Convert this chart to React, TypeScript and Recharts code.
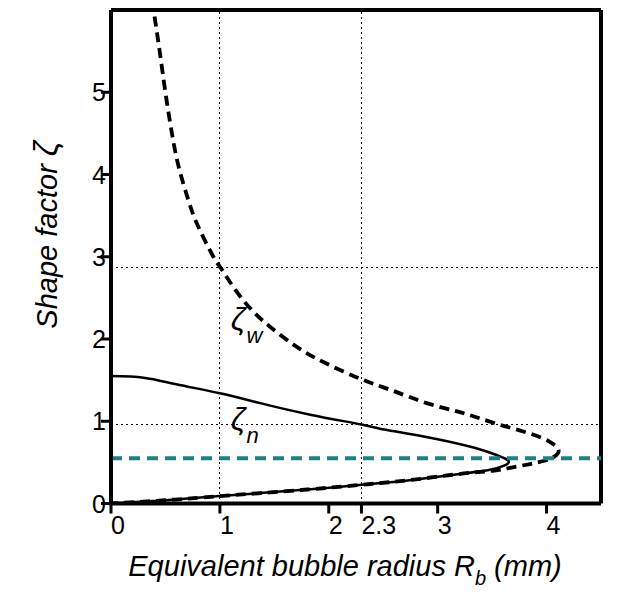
import React from 'react';
import { LineChart, Line, XAxis, YAxis, ReferenceLine, ReferenceDot } from 'recharts';

const FONT = '"Liberation Sans", Arial, sans-serif';

// axis ticks
const xTicks = [0, 1, 2, 2.3, 3, 4];
const yTicks = [0, 1, 2, 3, 4, 5];

// zeta_w (dashed): down from the top, round the tip, back along the lower branch
const zetaWRadius = [0.40, 0.45, 0.505, 0.57, 0.63, 0.71, 0.80, 0.94, 1.0, 1.12, 1.28, 1.46, 1.70, 1.95, 2.30, 2.59, 2.90, 3.23, 3.54, 3.85, 4.03, 4.11, 4.07, 3.98, 3.85, 3.69, 3.52, 3.24, 2.78, 2.38, 1.8, 1.0, 0.5, 0];
const zetaWShape = [5.92, 5.47, 4.95, 4.42, 4.05, 3.69, 3.37, 3.00, 2.88, 2.64, 2.37, 2.15, 1.91, 1.72, 1.51, 1.37, 1.22, 1.10, 0.97, 0.85, 0.75, 0.65, 0.57, 0.52, 0.48, 0.44, 0.40, 0.365, 0.29, 0.237, 0.17, 0.09, 0.04, 0];

// zeta_n (solid)
const zetaNRadius = [0, 0.30, 0.60, 1.0, 1.37, 1.83, 2.30, 2.47, 2.93, 3.33, 3.54, 3.65, 3.61, 3.48, 3.24, 2.78, 2.38, 1.8, 1.0, 0.5, 0];
const zetaNShape = [1.55, 1.53, 1.45, 1.34, 1.22, 1.08, 0.96, 0.91, 0.80, 0.68, 0.59, 0.52, 0.46, 0.41, 0.365, 0.29, 0.237, 0.17, 0.09, 0.04, 0];

// dotted guides and the critical value
const guideRadius = [1, 2.3];
const guideShape = [0.96, 2.87];
const criticalShape = 0.55;

const zetaW = zetaWRadius.map((x, i) => ({ x, y: zetaWShape[i] }));
const zetaN = zetaNRadius.map((x, i) => ({ x, y: zetaNShape[i] }));

const XTick = (props: any) => {
  const { x, y, payload } = props;
  return (
    <text x={x} y={y} dy={18} textAnchor="start" fontSize={25} fontFamily={FONT} fill="#000">
      {payload.value}
    </text>
  );
};

const YTick = (props: any) => {
  const { x, y, payload } = props;
  return (
    <text x={x + 7} y={y} dy={9} textAnchor="end" fontSize={25} fontFamily={FONT} fill="#000">
      {payload.value}
    </text>
  );
};

const XTitle = (props: any) => {
  const vb = props.viewBox;
  const cx = vb.x + vb.width / 2 - 11;
  const y = vb.y + 72.5;
  return (
    <text x={cx} y={y} textAnchor="middle" fontSize={29} fontStyle="italic" fontFamily={FONT} fill="#000">
      Equivalent bubble radius R
      <tspan dy={9} fontSize={20}>b</tspan>
      <tspan dy={-9}> (mm)</tspan>
    </text>
  );
};

const YTitle = (props: any) => {
  const vb = props.viewBox;
  const x = vb.x + 6;
  const cy = vb.y + vb.height / 2 - 22;
  return (
    <text x={x} y={cy} transform={`rotate(-90, ${x}, ${cy})`} textAnchor="middle" fontSize={29} fontStyle="italic" fontFamily={FONT} fill="#000">
      Shape factor <tspan fontSize={33}>ζ</tspan>
    </text>
  );
};

// zeta with its subscript, as one text
const zetaLabel = (sub: string) => (props: any) => {
  const { cx, cy } = props;
  return (
    <text x={cx} y={cy} fontFamily={FONT} fill="#000" fontSize={32} fontStyle="italic">
      ζ<tspan dx={1} dy={13} fontSize={22}>{sub}</tspan>
    </text>
  );
};

const App: React.FC = () => {
  return (
    <div style={{ position: 'absolute', left: 0, top: 0, background: '#fff' }}>
      <LineChart width={636} height={600} margin={{ top: 10, right: 35, left: 51, bottom: 66.5 }}>
        <XAxis
          type="number"
          dataKey="x"
          domain={[0, 4.5]}
          ticks={xTicks}
          allowDataOverflow
          height={30}
          tick={<XTick />}
          tickSize={10}
          axisLine={{ stroke: '#000', strokeWidth: 4 }}
          tickLine={{ stroke: '#000', strokeWidth: 3 }}
          label={{ content: <XTitle /> }}
        />
        <YAxis
          type="number"
          dataKey="y"
          domain={[0, 6]}
          ticks={yTicks}
          allowDataOverflow
          width={60}
          tick={<YTick />}
          tickSize={10}
          axisLine={{ stroke: '#000', strokeWidth: 4 }}
          tickLine={{ stroke: '#000', strokeWidth: 3 }}
          label={{ content: <YTitle /> }}
        />
        {guideRadius.map((v) => (
          <ReferenceLine key={'gx' + v} x={v} stroke="#000" strokeWidth={1} strokeDasharray="2 3" shapeRendering="crispEdges" />
        ))}
        {guideShape.map((v) => (
          <ReferenceLine key={'gy' + v} y={v} stroke="#000" strokeWidth={1} strokeDasharray="2 3" shapeRendering="crispEdges" />
        ))}
        <ReferenceLine y={6} stroke="#000" strokeWidth={4} />
        <ReferenceLine x={4.5} stroke="#000" strokeWidth={4} />
        <Line
          data={zetaN}
          dataKey="y"
          type="natural"
          stroke="#000"
          strokeWidth={2.5}
          dot={false}
          activeDot={false}
          isAnimationActive={false}
        />
        <Line
          data={zetaW}
          dataKey="y"
          type="natural"
          stroke="#000"
          strokeWidth={3.8}
          strokeDasharray="10 6"
          dot={false}
          activeDot={false}
          isAnimationActive={false}
        />
        <ReferenceLine y={criticalShape} stroke="#1e8080" strokeWidth={4} strokeDasharray="11 7" />
        <ReferenceDot x={1.1} y={2.11} r={0} shape={zetaLabel('w')} />
        <ReferenceDot x={1.1} y={0.89} r={0} shape={zetaLabel('n')} />
      </LineChart>
    </div>
  );
};

export default App;
